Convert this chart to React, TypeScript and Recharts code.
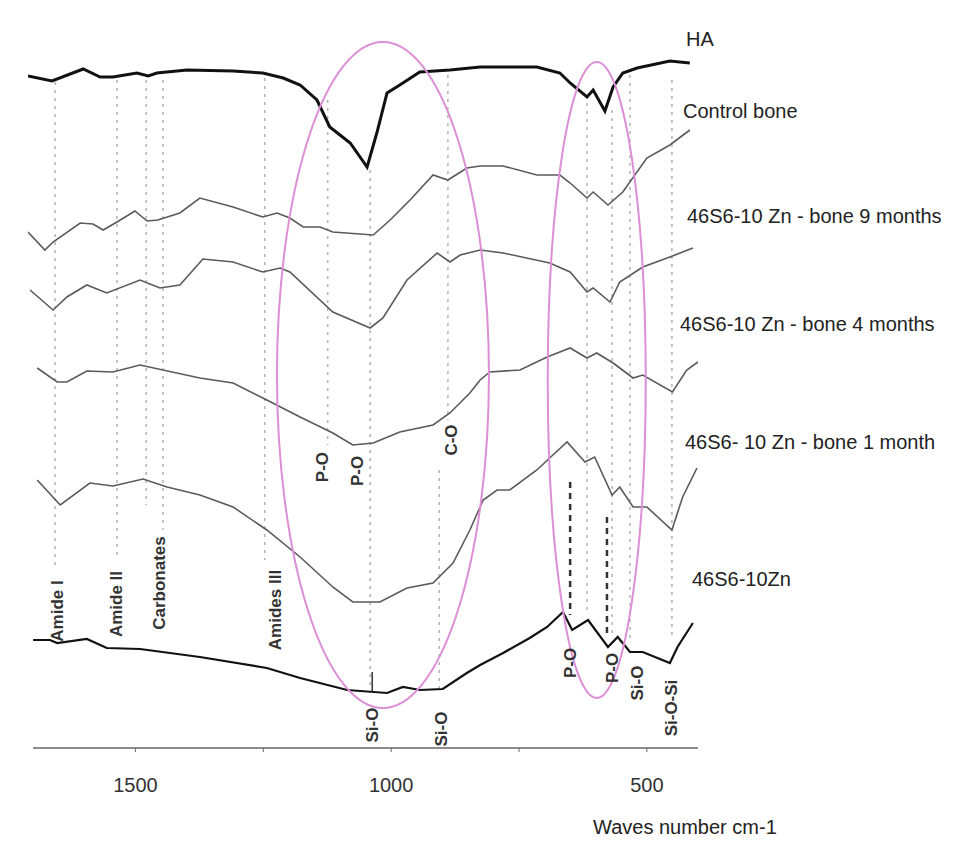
import React from 'react';
import {
  ComposedChart,
  Line,
  XAxis,
  YAxis,
  ReferenceLine,
  ReferenceDot,
} from 'recharts';

// wavenumber (cm-1), transmittance offset (a.u.)
const haSpectrum = [
  [1710, 672], [1663, 667], [1602, 679], [1569, 671], [1544, 671], [1497, 675], [1475, 672],
  [1458, 675], [1399, 678], [1309, 677], [1251, 675], [1211, 670], [1178, 663], [1145, 648],
  [1120, 621], [1100, 613], [1080, 605], [1047, 581], [1028, 615], [1008, 655], [983, 663],
  [944, 676], [885, 678], [826, 681], [715, 681], [670, 675], [650, 665], [617, 651],
  [605, 658], [582, 637], [566, 661], [547, 675], [519, 680], [455, 687], [416, 685],
];

const controlBone = [
  [1710, 516], [1677, 498], [1661, 506], [1608, 525], [1583, 524], [1563, 518], [1536, 526],
  [1501, 537], [1477, 527], [1456, 528], [1413, 535], [1374, 550], [1309, 541], [1251, 531],
  [1223, 535], [1198, 530], [1172, 521], [1139, 521], [1114, 516], [1035, 513], [1002, 528],
  [963, 548], [918, 573], [889, 568], [852, 580], [826, 582], [781, 582], [715, 573],
  [670, 573], [650, 565], [617, 550], [605, 556], [576, 543], [547, 556], [500, 590],
  [455, 603], [416, 618],
];

const bone9Months = [
  [1706, 458], [1661, 438], [1634, 451], [1595, 463], [1556, 455], [1491, 468], [1452, 460],
  [1413, 463], [1368, 489], [1309, 486], [1251, 476], [1217, 480], [1198, 476], [1114, 436],
  [1041, 420], [1016, 430], [969, 468], [910, 495], [885, 486], [865, 493], [826, 498],
  [781, 495], [690, 485], [650, 476], [617, 456], [605, 460], [572, 446], [553, 466],
  [508, 481], [455, 491], [410, 500],
];

const bone4Months = [
  [1692, 380], [1653, 366], [1634, 366], [1595, 377], [1544, 376], [1491, 383], [1374, 370],
  [1309, 365], [1243, 348], [1178, 331], [1114, 315], [1075, 303], [1035, 305], [983, 316],
  [918, 323], [885, 335], [846, 355], [826, 368], [807, 376], [748, 378], [695, 391],
  [650, 400], [617, 390], [598, 395], [566, 385], [527, 370], [508, 373], [450, 356],
  [422, 378], [400, 386],
];

const bone1Month = [
  [1692, 268], [1647, 243], [1589, 265], [1544, 262], [1485, 269], [1438, 261], [1374, 253],
  [1309, 241], [1243, 218], [1178, 191], [1114, 161], [1075, 146], [1022, 146], [969, 160],
  [918, 165], [879, 185], [846, 218], [820, 248], [793, 258], [768, 258], [715, 278],
  [690, 290], [656, 306], [621, 286], [602, 291], [568, 253], [553, 261], [527, 241],
  [500, 241], [451, 218], [430, 251], [402, 280],
];

const glass46S6 = [
  [1700, 108], [1667, 108], [1653, 105], [1595, 109], [1556, 100], [1491, 99], [1374, 91],
  [1243, 80], [1178, 70], [1086, 58], [1008, 55], [977, 61], [944, 58], [899, 59],
  [852, 75], [826, 83], [781, 95], [729, 110], [695, 121], [664, 136], [646, 118],
  [615, 128], [576, 101], [557, 111], [533, 96], [508, 96], [455, 85], [440, 101], [410, 125],
];

// band guide lines: wavenumber, from, to
const guideLines = [
  [1657, 666, 183], [1536, 668, 193], [1479, 668, 243], [1446, 668, 218], [1247, 670, 188],
  [1124, 648, 303], [1041, 578, 58], [889, 673, 328], [906, 278, 58], [617, 653, 138],
  [568, 638, 115], [533, 673, 108], [451, 668, 108],
];
const strongLines = [[650, 266, 133], [578, 231, 111]];

const bandLabels = [
  { w: 1653, v: 137, text: 'Amide I' },
  { w: 1536, v: 144, text: 'Amide II' },
  { w: 1452, v: 165, text: 'Carbonates' },
  { w: 1227, v: 138, text: 'Amides III' },
  { w: 1135, v: 281, text: 'P-O' },
  { w: 1065, v: 277, text: 'P-O' },
  { w: 881, v: 308, text: 'C-O' },
  { w: 1037, v: 23, text: 'Si-O' },
  { w: 901, v: 19, text: 'Si-O' },
  { w: 650, v: 85, text: 'P-O' },
  { w: 568, v: 80, text: 'P-O' },
  { w: 519, v: 65, text: 'Si-O' },
  { w: 451, v: 40, text: 'Si-O-Si' },
];

const seriesNames = [
  'HA',
  'Control bone',
  '46S6-10 Zn - bone 9 months',
  '46S6-10 Zn - bone 4 months',
  '46S6- 10 Zn - bone 1 month',
  '46S6-10Zn',
];
const namePos = [
  [686, 28], [683, 100], [687, 205], [680, 313], [685, 431], [692, 568],
];

const xTicks = [1500, 1250, 1000, 750, 500];

const font = '"Liberation Sans", Arial, sans-serif';
const toRows = (pts: number[][]) => pts.map(([w, v]) => ({ w, v }));

const series = [
  { pts: haSpectrum, color: '#111', width: 3 },
  { pts: controlBone, color: '#5a5a5a', width: 1.6 },
  { pts: bone9Months, color: '#5a5a5a', width: 1.6 },
  { pts: bone4Months, color: '#5a5a5a', width: 1.6 },
  { pts: bone1Month, color: '#5a5a5a', width: 1.6 },
  { pts: glass46S6, color: '#111', width: 2.2 },
];

const RotatedLabel = (text: string) => (p: any) => (
  <text
    x={p.cx}
    y={p.cy}
    transform={`rotate(-90 ${p.cx} ${p.cy})`}
    textAnchor="middle"
    dominantBaseline="central"
    fontFamily={font}
    fontWeight="bold"
    fontSize={17}
    fill="#333"
  >
    {text}
  </text>
);

const Ellipse = (rx: number, ry: number) => (p: any) => (
  <ellipse cx={p.cx} cy={p.cy} rx={rx} ry={ry} fill="none" stroke="#dc8fd6" strokeWidth={2} />
);

export default function App() {
  return (
    <div style={{ position: 'absolute', left: 0, top: 0, width: 954, height: 842, background: '#fff' }}>
      <ComposedChart width={954} height={842} margin={{ top: 28, right: 256, bottom: 64, left: 28 }}>
        <XAxis
          type="number"
          dataKey="w"
          domain={[400, 1710]}
          reversed
          allowDataOverflow
          ticks={xTicks}
          tickFormatter={(v) => (v % 500 === 0 ? String(v) : '')}
          tick={{ fontSize: 20, fill: '#333', fontFamily: font }}
          tickSize={4}
          tickMargin={26}
          axisLine={false}
          stroke="#666"
          height={30}
        />
        <YAxis type="number" domain={[0, 720]} hide allowDataOverflow />
        <ReferenceLine segment={[{ x: 1700, y: 0 }, { x: 400, y: 0 }]} stroke="#666" strokeWidth={1.5} />
        {guideLines.map(([w, a, b], i) => (
          <ReferenceLine
            key={`g-${i}`}
            segment={[{ x: w, y: a }, { x: w, y: b }]}
            stroke="#b3b3b3"
            strokeWidth={1.5}
            strokeDasharray="3 5"
          />
        ))}
        {strongLines.map(([w, a, b], i) => (
          <ReferenceLine
            key={`s-${i}`}
            segment={[{ x: w, y: a }, { x: w, y: b }]}
            stroke="#333"
            strokeWidth={2.5}
            strokeDasharray="6 5"
          />
        ))}
        <ReferenceLine segment={[{ x: 1037, y: 76 }, { x: 1037, y: 56 }]} stroke="#333" strokeWidth={1.5} />
        <ReferenceDot x={1016} y={373} r={1} shape={Ellipse(106, 333)} />
        <ReferenceDot x={598} y={368} r={1} shape={Ellipse(49, 318)} />
        {series.map((s, i) => (
          <Line
            key={`l-${i}`}
            data={toRows(s.pts)}
            dataKey="v"
            type="linear"
            stroke={s.color}
            strokeWidth={s.width}
            dot={false}
            isAnimationActive={false}
          />
        ))}
        {bandLabels.map((b, i) => (
          <ReferenceDot key={`b-${i}`} x={b.w} y={b.v} r={1} shape={RotatedLabel(b.text)} />
        ))}
      </ComposedChart>
      {seriesNames.map((name, i) => (
        <div
          key={name}
          style={{
            position: 'absolute',
            left: namePos[i][0],
            top: namePos[i][1],
            fontFamily: font,
            fontSize: 20,
            color: '#222',
            whiteSpace: 'nowrap',
            lineHeight: '23px',
          }}
        >
          {name}
        </div>
      ))}
      <div
        style={{
          position: 'absolute',
          left: 593,
          top: 816,
          fontFamily: font,
          fontSize: 20,
          color: '#222',
          whiteSpace: 'nowrap',
          lineHeight: '23px',
        }}
      >
        Waves number cm-1
      </div>
    </div>
  );
}
